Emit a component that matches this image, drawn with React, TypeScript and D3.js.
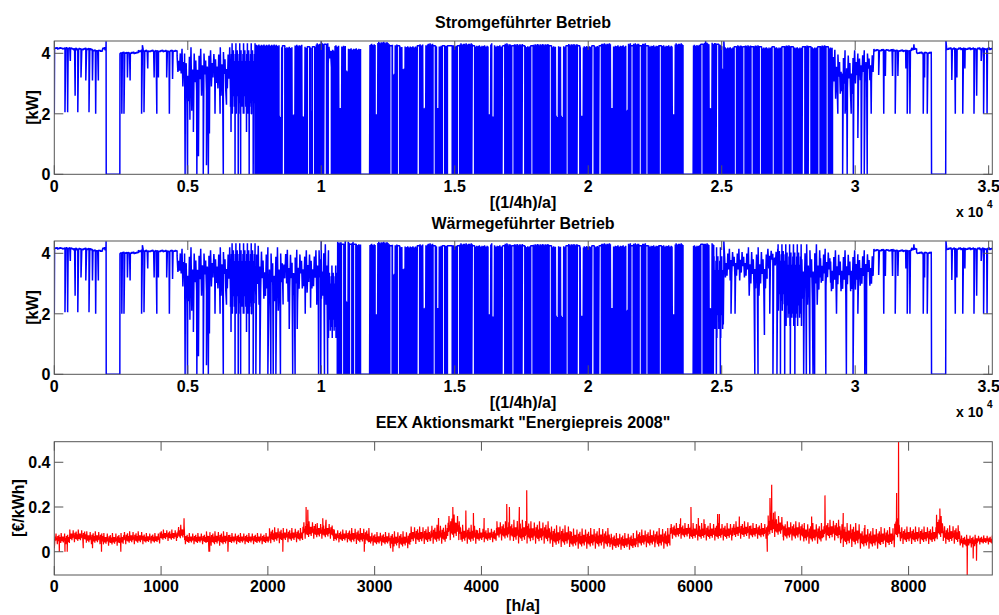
import React from "react";
import * as d3 from "d3";

type Run = [number, number, number, number]; // start, end, low, high
type Pt = [number, number];
type Slit = [number, number, number]; // position, low, high

// ---------- axes ----------
const QH_MAX = 35136; // quarter hours in 2008
const H_MAX = 8784; // hours in 2008
const powerXTicks = [0, 5000, 10000, 15000, 20000, 25000, 30000, 35000];
const powerXTickLabels = ["0", "0.5", "1", "1.5", "2", "2.5", "3", "3.5"];
const powerYTicks = [0, 2, 4];
const powerYTickLabels = ["0", "2", "4"];
const priceXTicks = [0, 1000, 2000, 3000, 4000, 5000, 6000, 7000, 8000];
const priceXTickLabels = ["0", "1000", "2000", "3000", "4000", "5000", "6000", "7000", "8000"];
const priceYTicks = [0, 0.2, 0.4];
const priceYTickLabels = ["0", "0.2", "0.4"];
const powerYMax = 4.407;
const priceYMin = -0.104;
const priceYMax = 0.492;

// ---------- power: shared start (0 – 0.752e4) ----------
const startRuns: Run[] = [
  [10, 700, 4.13, 4.2],
  [700, 1450, 4.1, 4.18],
  [1450, 1800, 4.05, 4.12],
  [1800, 1935, 4.1, 4.2],
  [1945, 2455, 0, 0],
  [2460, 3150, 3.98, 4.05],
  [3150, 3450, 4.03, 4.13],
  [3450, 4600, 4.04, 4.11],
  [4600, 4720, 3.3, 4.12],
  [4720, 4880, 2.9, 4.15],
  [4880, 5300, 2.1, 4.2],
  [5300, 5700, 2.6, 4.15],
  [5700, 6100, 2.9, 4.1],
  [6100, 6600, 2.6, 4.2],
  [6600, 7520, 2.0, 4.33],
];
const startDips: Pt[] = [
  [0, 2.0], [400, 2.05], [500, 2.05], [600, 3.75], [780, 2.6], [880, 2.05],
  [1000, 3.2], [1180, 3.1], [1300, 2.05], [1430, 3.1], [1550, 2.0], [1650, 3.1],
  [1940, 4.4], [2530, 2.0], [2610, 2.0], [2740, 3.2], [2840, 3.1], [3270, 2.0],
  [3300, 4.27], [3360, 2.05], [3500, 3.5], [3740, 3.2], [3840, 2.0], [3900, 3.2],
  [4210, 3.2], [4310, 2.0], [4430, 3.15],
  [4900, 0], [4990, 0], [5080, 1.8], [5210, 1.4], [5340, 0], [5400, 0.6],
  [5580, 0], [5700, 0.3], [5770, 0], [5810, 1.35], [6020, 2.0], [6210, 2.0],
  [6330, 0], [6450, 2.3], [6620, 1.4], [6640, 2.0], [6770, 0], [6890, 0],
  [6980, 0], [7080, 2.0], [7200, 1.4], [7300, 0], [7380, 2.0], [7450, 0],
];

// ---------- power: shared dense block (1.18e4 – 2.39e4) ----------
const denseRuns: Run[] = [
  [11470, 11810, 0, 0],
  [11810, 12500, 0, 4.38],
  [12500, 14000, 0, 4.3],
  [14000, 17000, 0, 4.33],
  [17000, 20500, 0, 4.31],
  [20500, 23550, 0, 4.33],
  [23550, 23930, 0, 0],
];
const denseSlits: Slit[] = [
  [12060, 0, 2.0], [12610, 4.25, 4.25], [12710, 0, 3.4], [12890, 4.25, 4.25],
  [13080, 0, 3.5], [13640, 4.25, 4.25], [13860, 0, 2.2], [14230, 4.25, 4.25],
  [14360, 0, 2.2], [14580, 4.25, 4.25], [14770, 4.25, 4.25], [14860, 4.25, 4.25],
  [15140, 4.25, 4.25], [15700, 4.25, 4.25], [16290, 0, 2.0], [16430, 0, 2.0],
  [16830, 4.25, 4.25], [17180, 4.25, 4.25], [17580, 4.25, 4.25], [17890, 4.25, 4.25],
  [18580, 4.25, 4.25], [18830, 0, 2.0], [19020, 0, 2.0], [19210, 4.25, 4.25],
  [19640, 4.25, 4.25], [19760, 0, 2.0], [20180, 4.25, 4.25], [20450, 4.25, 4.25],
  [20890, 0, 2.2], [21450, 0, 2.2], [21640, 4.25, 4.25], [21950, 4.25, 4.25],
  [22200, 4.25, 4.25], [22700, 4.25, 4.25], [23200, 0, 2.0],
];

// ---------- power: shared end (3.07e4 – 3.51e4) ----------
const endRuns: Run[] = [
  [30700, 31500, 4.06, 4.14],
  [31500, 32100, 4.05, 4.12],
  [32100, 32300, 4.1, 4.18],
  [32300, 32850, 3.98, 4.05],
  [32860, 33390, 0, 0],
  [33400, QH_MAX, 4.11, 4.19],
];
const endDips: Pt[] = [
  [30880, 3.28], [31070, 2.0], [31130, 3.25], [31400, 3.25], [31500, 2.0],
  [31600, 3.25], [31900, 3.5], [31950, 2.0], [32050, 2.0], [32200, 4.3],
  [32550, 2.0], [32600, 3.2], [32700, 2.0], [33400, 4.41], [33620, 3.12],
  [33750, 2.0], [33810, 3.2], [34030, 2.0], [34110, 3.5], [34450, 2.0],
  [34550, 2.6], [34720, 3.75], [34810, 2.0], [34940, 2.0],
];

// ---------- Stromgeführter Betrieb: own parts ----------
const stromRuns: Run[] = [
  [7520, 8300, 0, 4.36],
  [8300, 9800, 0, 4.28],
  [9800, 10260, 0, 4.33],
  [10260, 10380, 3.45, 4.3],
  [10380, 10500, 0, 4.12],
  [10500, 11000, 0, 4.33],
  [11000, 11470, 0, 4.23],
  [23930, 25000, 0, 4.35],
  [25000, 25080, 0, 3.5],
  [25080, 29150, 0, 4.27],
  [29150, 29500, 2.5, 4.12],
  [29500, 29950, 2.4, 4.1],
  [29950, 30700, 3.0, 4.1],
];
const stromSlits: Slit[] = [
  [8460, 0, 2.0], [8590, 4.25, 4.25], [8960, 0, 2.0], [9330, 0, 2.0],
  [9520, 4.22, 4.22], [9650, 0, 2.2], [9710, 4.22, 4.22], [10150, 4.3, 4.3],
  [10710, 0, 2.2], [10960, 0, 3.5],
  [24260, 4.3, 4.3], [24580, 0, 2.2], [24850, 4.3, 4.3],
  [25510, 4.22, 4.22], [25830, 4.22, 4.22], [26140, 4.22, 4.22], [26450, 4.22, 4.22],
  [26930, 4.22, 4.22], [27300, 4.22, 4.22], [27640, 4.22, 4.22], [28070, 4.22, 4.22],
  [28300, 4.22, 4.22], [28640, 4.22, 4.22], [28950, 4.22, 4.22],
];
const stromDips: Pt[] = [
  [10000, 4.4], [24400, 4.4], [25080, 4.4],
  [29350, 2.0], [29530, 0], [29620, 2.0], [29700, 0], [29850, 2.0], [29930, 0],
  [30100, 1.2], [30230, 0], [30340, 0], [30450, 0], [30600, 2.0],
];

// ---------- Wärmegeführter Betrieb: own parts ----------
const waermeRuns: Run[] = [
  [7520, 7970, 2.3, 4.25],
  [7970, 8570, 2.1, 4.2],
  [8570, 8700, 3.0, 4.15],
  [8700, 9200, 2.4, 4.12],
  [9200, 9830, 2.7, 4.1],
  [9830, 10270, 2.3, 4.3],
  [10270, 10600, 1.2, 3.6],
  [10600, 11470, 0, 4.38],
  [23930, 24700, 0, 4.33],
  [24700, 25060, 1.2, 4.2],
  [25080, 26000, 3.1, 4.15],
  [26000, 26700, 2.6, 4.2],
  [26700, 27100, 3.5, 4.15],
  [27100, 27400, 2.1, 4.3],
  [27400, 28000, 1.6, 4.3],
  [28000, 28700, 2.3, 4.3],
  [28700, 29080, 2.9, 4.15],
  [29080, 29950, 2.6, 4.1],
  [29950, 30700, 2.8, 4.1],
];
const waermeSlits: Slit[] = [
  [10800, 4.3, 4.3], [10950, 0, 2.5], [11100, 4.3, 4.3], [11250, 4.3, 4.3],
  [24260, 4.3, 4.3], [24580, 0, 2.2],
];
const waermeDips: Pt[] = [
  [7550, 0], [7700, 0], [8000, 0], [8110, 0], [8200, 0], [8300, 0], [8470, 0],
  [8800, 1.5], [8930, 0], [9020, 0], [9100, 1.5], [9400, 2.0], [9600, 2.2],
  [9900, 0], [9980, 0], [10000, 4.4], [10120, 0], [10240, 0], [10900, 4.4],
  [24800, 0], [24950, 0], [25080, 4.4], [25350, 2.0], [25500, 2.0],
  [26240, 0], [26360, 0], [26600, 1.3], [26800, 2.0], [26920, 0], [27070, 0],
  [27200, 0], [27360, 0], [27570, 0], [27740, 0], [28070, 0], [28170, 0],
  [28300, 0], [28420, 0], [28480, 0], [28900, 0], [29300, 2.0], [29670, 0],
  [29920, 0], [30100, 2.0], [30360, 0], [30420, 0],
];

// ---------- EEX price (€/kWh, hourly) ----------
const priceRuns: Run[] = [
  [0, 145, 0.031, 0.084], [145, 300, 0.04, 0.099], [300, 460, 0.031, 0.091],
  [460, 645, 0.024, 0.084], [645, 830, 0.031, 0.091], [830, 990, 0.034, 0.084],
  [990, 1160, 0.046, 0.099], [1160, 1220, 0.05, 0.121], [1220, 1425, 0.031, 0.084],
  [1425, 1640, 0.024, 0.091], [1640, 1830, 0.031, 0.084], [1830, 2015, 0.031, 0.084],
  [2015, 2140, 0.034, 0.109], [2140, 2325, 0.039, 0.106], [2325, 2450, 0.054, 0.136],
  [2450, 2610, 0.054, 0.128], [2610, 2765, 0.039, 0.099], [2765, 2950, 0.031, 0.106],
  [2950, 3145, 0.024, 0.088], [3145, 3330, 0.012, 0.091], [3330, 3520, 0.031, 0.113],
  [3520, 3680, 0.031, 0.121], [3680, 3800, 0.046, 0.166], [3800, 3955, 0.031, 0.121],
  [3955, 4145, 0.039, 0.106], [4145, 4300, 0.046, 0.136], [4300, 4455, 0.031, 0.143],
  [4455, 4640, 0.031, 0.136], [4640, 4830, 0.016, 0.118], [4830, 5015, 0.009, 0.104],
  [5015, 5200, 0.009, 0.106], [5200, 5450, 0.005, 0.084], [5450, 5640, 0.016, 0.099],
  [5640, 5765, 0.009, 0.106], [5765, 5950, 0.054, 0.128], [5950, 6170, 0.046, 0.128],
  [6170, 6360, 0.046, 0.128], [6360, 6515, 0.054, 0.136], [6515, 6685, 0.054, 0.128],
  [6685, 6735, 0.06, 0.18], [6735, 6825, 0.061, 0.16], [6825, 7015, 0.046, 0.136],
  [7015, 7200, 0.031, 0.128], [7200, 7360, 0.046, 0.143], [7360, 7545, 0.016, 0.128],
  [7545, 7730, 0.009, 0.106], [7730, 7870, 0.016, 0.11], [7870, 7920, 0.05, 0.15],
  [7920, 8105, 0.031, 0.113], [8105, 8260, 0.031, 0.113], [8260, 8325, 0.05, 0.16],
  [8325, 8480, 0.031, 0.118], [8480, 8635, 0.016, 0.076], [8635, H_MAX, 0.031, 0.073],
];
const priceSpikes: Pt[] = [
  [0, 0.016], [47, 0.0], [100, 0.0], [121, 0.0], [271, 0.016], [358, 0.016],
  [442, 0.0], [623, 0.0], [1215, 0.15], [1448, 0.0], [1455, 0.0], [1626, 0.0],
  [2140, 0.0], [2358, 0.2], [2374, 0.188], [2514, 0.15], [2545, 0.143], [2903, 0.0],
  [3171, 0.0], [3598, 0.151], [3732, 0.2], [3854, 0.184], [3925, 0.173],
  [4025, 0.151], [4237, 0.213], [4262, 0.2], [4355, 0.2], [4424, 0.275],
  [5865, 0.15], [5962, 0.2], [6031, 0.151], [6084, 0.145], [6212, 0.169],
  [6228, 0.169], [6415, 0.158], [6677, 0.0], [6702, 0.24], [6718, 0.3],
  [6749, 0.18], [7092, 0.158], [7217, 0.252], [7388, 0.173], [7591, 0.12],
  [7888, 0.263], [7906, 0.492], [8262, 0.165], [8293, 0.193], [8549, -0.104],
  [8605, -0.03], [8636, -0.04],
];

// fraction of the local band reached at successive samples
const texture = [0.15, 0.85, 0.35, 1, 0, 0.65, 0.25, 0.9, 0.45, 0.75, 0.1, 0.55];
const priceTexture = [0.5, 0.2, 0.7, 0.35, 0.95, 0.4, 0.6, 0.05, 0.75, 0.3, 0.55, 0.85, 0.25, 0.65, 0.45, 0.15, 1, 0.5, 0.3, 0.7];

// ---------- helpers ----------
function applySlits(runs: Run[], slits: Slit[], width: number): Run[] {
  let out: Run[] = runs.map((r) => [...r] as Run);
  for (const [x, lo, hi] of slits) {
    const a = x - width / 2;
    const b = x + width / 2;
    const next: Run[] = [];
    for (const r of out) {
      if (b <= r[0] || a >= r[1]) {
        next.push(r);
        continue;
      }
      if (a > r[0]) next.push([r[0], a, r[2], r[3]]);
      next.push([Math.max(a, r[0]), Math.min(b, r[1]), lo, hi]);
      if (b < r[1]) next.push([b, r[1], r[2], r[3]]);
    }
    out = next;
  }
  return out;
}

type Steps = { dense: number; fuzz: number; flat: number; tex: number[]; ragged: number };

function buildPoints(runs: Run[], singles: Pt[], s: Steps): Pt[] {
  const pts: Pt[] = [];
  const sorted = [...runs].sort((p, q) => p[0] - q[0]);
  for (const [a, b, lo, hi] of sorted) {
    const span = hi - lo;
    const dense = lo === 0 && hi > 1;
    const st = span === 0 ? s.flat : dense ? s.dense : span > 0.5 * hi ? s.fuzz : s.flat;
    const n = Math.max(1, Math.round((b - a) / st));
    const off = Math.round(a / st);
    for (let k = 0; k <= n; k++) {
      const x = a + ((b - a) * k) / n;
      const t = s.tex[(k + off) % s.tex.length];
      let v = lo;
      if (span === 0) v = lo;
      else if (dense) v = k % 2 === 0 ? 0 : hi - s.ragged * t;
      else v = lo + span * t;
      pts.push([x, v]);
    }
  }
  for (const p of singles) pts.push(p);
  pts.sort((p, q) => p[0] - q[0]);
  return pts;
}

// ---------- layout ----------
const X0 = 54.3;
const X1 = 992.3;
const FONT = "'Liberation Sans', Arial, Helvetica, sans-serif";
const AXIS = "#555";
const TICK = 9;

type PanelProps = {
  id: string;
  top: number;
  bottom: number;
  xMax: number;
  yDomain: [number, number];
  pts: Pt[];
  color: string;
  width: number;
  xTicks: number[];
  xLabels: string[];
  yTicks: number[];
  yLabels: string[];
};

function Panel(p: PanelProps) {
  const x = d3.scaleLinear().domain([0, p.xMax]).range([X0, X1]);
  const y = d3.scaleLinear().domain(p.yDomain).range([p.bottom, p.top]);
  const line = d3
    .line<Pt>()
    .x((d) => x(d[0]))
    .y((d) => y(d[1]));
  return (
    <g>
      <defs>
        <clipPath id={p.id}>
          <rect x={X0} y={p.top} width={X1 - X0} height={p.bottom - p.top} />
        </clipPath>
      </defs>
      <path
        d={line(p.pts) || ""}
        fill="none"
        stroke={p.color}
        strokeWidth={p.width}
        strokeLinejoin="bevel"
        clipPath={`url(#${p.id})`}
      />
      <rect x={X0} y={p.top} width={X1 - X0} height={p.bottom - p.top} fill="none" stroke={AXIS} strokeWidth={1} />
      {p.xTicks.map((t, i) => (
        <g key={"x" + i}>
          <line x1={x(t)} x2={x(t)} y1={p.bottom} y2={p.bottom - TICK} stroke={AXIS} />
          <line x1={x(t)} x2={x(t)} y1={p.top} y2={p.top + TICK} stroke={AXIS} />
          <text
            x={x(t)}
            y={p.bottom + 17.2}
            textAnchor="middle"
            fontFamily={FONT}
            fontWeight="bold"
            fontSize={16}
          >
            {p.xLabels[i]}
          </text>
        </g>
      ))}
      {p.yTicks.map((t, i) => (
        <g key={"y" + i}>
          <line x1={X0} x2={X0 + TICK} y1={y(t)} y2={y(t)} stroke={AXIS} />
          <line x1={X1} x2={X1 - TICK} y1={y(t)} y2={y(t)} stroke={AXIS} />
          <text
            x={50.5}
            y={y(t) + 5.8}
            textAnchor="end"
            fontFamily={FONT}
            fontWeight="bold"
            fontSize={16}
          >
            {p.yLabels[i]}
          </text>
        </g>
      ))}
    </g>
  );
}

function Txt(props: { x: number; y: number; size?: number; anchor?: string; children: React.ReactNode; transform?: string }) {
  return (
    <text
      x={props.x}
      y={props.y}
      fontFamily={FONT}
      fontWeight="bold"
      fontSize={props.size ?? 16}
      textAnchor={props.anchor ?? "middle"}
      transform={props.transform}
    >
      {props.children}
    </text>
  );
}

export default function App() {
  const slitW = 90;
  const powerSteps: Steps = { dense: 16, fuzz: 12, flat: 30, tex: texture, ragged: 0.12 };
  const stromPts = buildPoints(
    applySlits([...startRuns, ...stromRuns, ...denseRuns, ...endRuns], [...denseSlits, ...stromSlits], slitW),
    [...startDips, ...stromDips, ...endDips],
    powerSteps
  );
  const waermePts = buildPoints(
    applySlits([...startRuns, ...waermeRuns, ...denseRuns, ...endRuns], [...denseSlits, ...waermeSlits], slitW),
    [...startDips, ...waermeDips, ...endDips],
    powerSteps
  );
  const pricePts = buildPoints(priceRuns, priceSpikes, {
    dense: 4,
    fuzz: 4,
    flat: 4,
    tex: priceTexture,
    ragged: 0,
  });

  return (
    <svg
      width={999}
      height={615}
      style={{ position: "absolute", left: 0, top: 0, background: "#fff" }}
    >
      <rect x={0} y={0} width={999} height={615} fill="#fff" />
      <Txt x={523} y={28.3}>Stromgeführter Betrieb</Txt>
      <Panel
        id="c1"
        top={41}
        bottom={174.3}
        xMax={QH_MAX}
        yDomain={[0, powerYMax]}
        pts={stromPts}
        color="#0000ff"
        width={1.5}
        xTicks={powerXTicks}
        xLabels={powerXTickLabels}
        yTicks={powerYTicks}
        yLabels={powerYTickLabels}
      />
      <Txt x={523} y={208.3}>[(1/4h)/a]</Txt>
      <Txt x={956} y={216.7} size={14} anchor="start">x 10</Txt>
      <Txt x={987} y={207.5} size={10} anchor="start">4</Txt>
      <Txt x={0} y={0} transform="translate(31.7,107.5) rotate(-90) translate(0,5.8)">[kW]</Txt>

      <Txt x={523} y={228.5}>Wärmegeführter Betrieb</Txt>
      <Panel
        id="c2"
        top={241}
        bottom={374.3}
        xMax={QH_MAX}
        yDomain={[0, powerYMax]}
        pts={waermePts}
        color="#0000ff"
        width={1.5}
        xTicks={powerXTicks}
        xLabels={powerXTickLabels}
        yTicks={powerYTicks}
        yLabels={powerYTickLabels}
      />
      <Txt x={523} y={408.3}>[(1/4h)/a]</Txt>
      <Txt x={956} y={416.7} size={14} anchor="start">x 10</Txt>
      <Txt x={987} y={407.5} size={10} anchor="start">4</Txt>
      <Txt x={0} y={0} transform="translate(31.7,307.5) rotate(-90) translate(0,5.8)">[kW]</Txt>

      <Txt x={523} y={428.3}>EEX Aktionsmarkt "Energiepreis 2008"</Txt>
      <Panel
        id="c3"
        top={441.7}
        bottom={575}
        xMax={H_MAX}
        yDomain={[priceYMin, priceYMax]}
        pts={pricePts}
        color="#ff0000"
        width={1.2}
        xTicks={priceXTicks}
        xLabels={priceXTickLabels}
        yTicks={priceYTicks}
        yLabels={priceYTickLabels}
      />
      <Txt x={523} y={610.5}>[h/a]</Txt>
      <Txt x={0} y={0} transform="translate(18.5,508) rotate(-90) translate(0,5.8)">[€/kWh]</Txt>
    </svg>
  );
}
